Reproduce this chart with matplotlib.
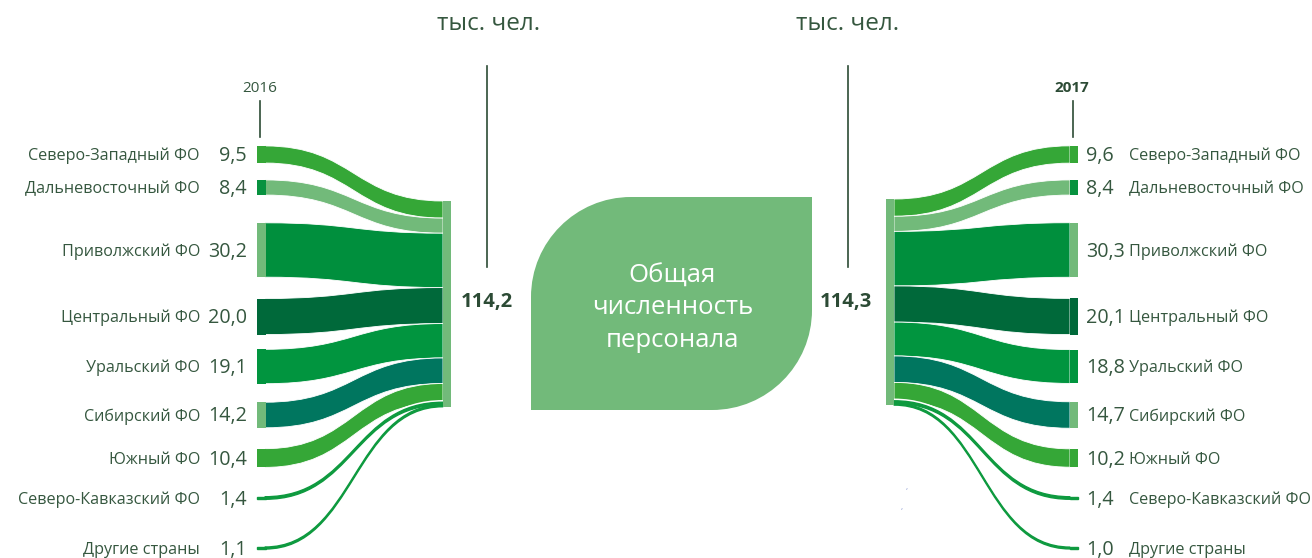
import matplotlib
matplotlib.use('Agg')
import matplotlib.pyplot as plt
from matplotlib.path import Path
from matplotlib.patches import PathPatch, Rectangle

# ---------------- data ----------------
regions = ['Северо-Западный ФО', 'Дальневосточный ФО', 'Приволжский ФО',
           'Центральный ФО', 'Уральский ФО', 'Сибирский ФО', 'Южный ФО',
           'Северо-Кавказский ФО', 'Другие страны']
v2016 = [9.5, 8.4, 30.2, 20.0, 19.1, 14.2, 10.4, 1.4, 1.1]
v2017 = [9.6, 8.4, 30.3, 20.1, 18.8, 14.7, 10.2, 1.4, 1.0]
total_2016 = 114.2
total_2017 = 114.3
year_left = '2016'
year_right = '2017'
unit_label = 'тыс. чел.'
center_title = 'Общая\nчисленность\nперсонала'

# ---------------- style / layout ----------------
flow_colors = ['#35A737', '#72BA7A', '#008F3D', '#00693A', '#01953F',
               '#00765F', '#35A737', '#0E9A3F', '#0E9A3F']
node_colors = ['#35A737', '#07923F', '#72BA7A', '#00693A', '#01953F',
               '#72BA7A', '#35A737', '#0E9A3F', '#0E9A3F']
bar_color = '#72BA7A'
text_color = '#35573F'
dark_text = '#2C4B35'
FONT = ['Open Sans', 'DejaVu Sans']
plt.rcParams['font.family'] = FONT

W, H = 1312, 558
PX = 1.8                      # pixels per thousand employees
row_centers = [154.5, 187.5, 250, 316.5, 366.5, 415, 458, 498, 548]
TXT_DY = 1.5
NODE_W = 8
L_NODE_X = 257
L_BAR_X = 443
L_BAR_TOP = 201
R_BAR_X = 886
R_BAR_TOP = 199
R_NODE_X = 1070

fig = plt.figure(figsize=(W / 100, H / 100), dpi=100)
ax = fig.add_axes([0, 0, 1, 1])
ax.set_xlim(0, W)
ax.set_ylim(H, 0)
ax.axis('off')


def fmt(v):
    return f'{v:.1f}'.replace('.', ',')


def flow(xa, ya0, ya1, xb, yb0, yb1, color, thin=False):
    xm = (xa + xb) / 2
    verts = [(xa, ya0), (xm, ya0), (xm, yb0), (xb, yb0), (xb, yb1),
             (xm, yb1), (xm, ya1), (xa, ya1), (xa, ya0)]
    codes = [Path.MOVETO, Path.CURVE4, Path.CURVE4, Path.CURVE4, Path.LINETO,
             Path.CURVE4, Path.CURVE4, Path.CURVE4, Path.CLOSEPOLY]
    if thin:
        ax.add_patch(PathPatch(Path(verts, codes), facecolor=color,
                               edgecolor='white', lw=3.2, zorder=3))
        ax.add_patch(PathPatch(Path(verts, codes), facecolor=color,
                               edgecolor=color, lw=1.0, zorder=3.1))
    else:
        ax.add_patch(PathPatch(Path(verts, codes), facecolor=color,
                               edgecolor='white', lw=0.6, zorder=2))


NAME_FS = 11.6
VAL_FS = 14.2

# ---------------- left side (2016) ----------------
ytop = L_BAR_TOP
for i, v in enumerate(v2016):
    h = v * PX
    c = row_centers[i]
    thin = v < 3
    flow(L_NODE_X + NODE_W, c - h / 2, c + h / 2, L_BAR_X, ytop, ytop + h,
         flow_colors[i], thin)
    ax.add_patch(Rectangle((L_NODE_X, c - h / 2), NODE_W + 0.5, h,
                           facecolor=node_colors[i], edgecolor=node_colors[i] if thin else 'none',
                           lw=1.0 if thin else 0, zorder=4))
    ytop += h
    ax.text(200, c + TXT_DY, regions[i], ha='right', va='center', fontsize=NAME_FS,
            color=text_color)
    ax.text(247, c + TXT_DY, fmt(v), ha='right', va='center', fontsize=VAL_FS,
            color=text_color)
ax.add_patch(Rectangle((L_BAR_X, L_BAR_TOP), NODE_W, total_2016 * PX,
                       facecolor=bar_color, edgecolor='none', zorder=5))

# ---------------- right side (2017) ----------------
ytop = R_BAR_TOP
for i, v in enumerate(v2017):
    h = v * PX
    c = row_centers[i]
    thin = v < 3
    flow(R_BAR_X + NODE_W, ytop, ytop + h, R_NODE_X, c - h / 2, c + h / 2,
         flow_colors[i], thin)
    ax.add_patch(Rectangle((R_NODE_X - 0.5, c - h / 2), NODE_W + 0.5, h,
                           facecolor=node_colors[i], edgecolor=node_colors[i] if thin else 'none',
                           lw=1.0 if thin else 0, zorder=4))
    ytop += h
    ax.text(1086, c + TXT_DY, fmt(v), ha='left', va='center', fontsize=VAL_FS,
            color=text_color)
    ax.text(1129, c + TXT_DY, regions[i], ha='left', va='center', fontsize=NAME_FS,
            color=text_color)
ax.add_patch(Rectangle((R_BAR_X, R_BAR_TOP), NODE_W, total_2017 * PX,
                       facecolor=bar_color, edgecolor='none', zorder=5))

# ---------------- year markers ----------------
ax.text(260, 88, year_left, ha='center', va='center', fontsize=11,
        color=text_color)
ax.plot([260, 260], [101, 137], color=dark_text, lw=1.2)
ax.text(1072, 88, year_right, ha='center', va='center', fontsize=11,
        color=dark_text, fontweight='bold')
ax.plot([1073, 1073], [101, 137], color=dark_text, lw=1.2)

# ---------------- unit labels and totals ----------------
for x in (489, 848):
    ax.text(x, 24, unit_label, ha='center', va='center', fontsize=17.5,
            color=text_color)
for x in (487, 848):
    ax.plot([x, x], [66, 267], color=dark_text, lw=1.2)
ax.text(461, 302, fmt(total_2016), ha='left', va='center', fontsize=14.5,
        fontweight='bold', color=dark_text)
ax.text(820, 302, fmt(total_2017), ha='left', va='center', fontsize=14.5,
        fontweight='bold', color=dark_text)

# ---------------- central leaf shape ----------------
x0, x1, y0, y1 = 531, 812, 197, 410
r = 100
k = 0.5523 * r
leaf = [(x0, y1), (x0, y0 + r), (x0, y0 + r - k), (x0 + r - k, y0), (x0 + r, y0),
        (x1, y0), (x1, y1 - r), (x1, y1 - r + k), (x1 - r + k, y1), (x1 - r, y1),
        (x0, y1), (x0, y1)]
leaf_codes = [Path.MOVETO, Path.LINETO, Path.CURVE4, Path.CURVE4, Path.CURVE4,
              Path.LINETO, Path.LINETO, Path.CURVE4, Path.CURVE4, Path.CURVE4,
              Path.LINETO, Path.CLOSEPOLY]
ax.add_patch(PathPatch(Path(leaf, leaf_codes), facecolor=bar_color,
                       edgecolor='none', zorder=1))
ax.text((x0 + x1) / 2 + 1, 308, center_title, ha='center', va='center',
        fontsize=18.5, color='white', linespacing=1.38)

# small stray marks seen in the source
ax.text(907, 487, ',', fontsize=6, color='#8C9AD0', ha='center', va='center')
ax.text(902, 508, ',', fontsize=6, color='#8C9AD0', ha='center', va='center')

fig.savefig('out.png', dpi=100)
